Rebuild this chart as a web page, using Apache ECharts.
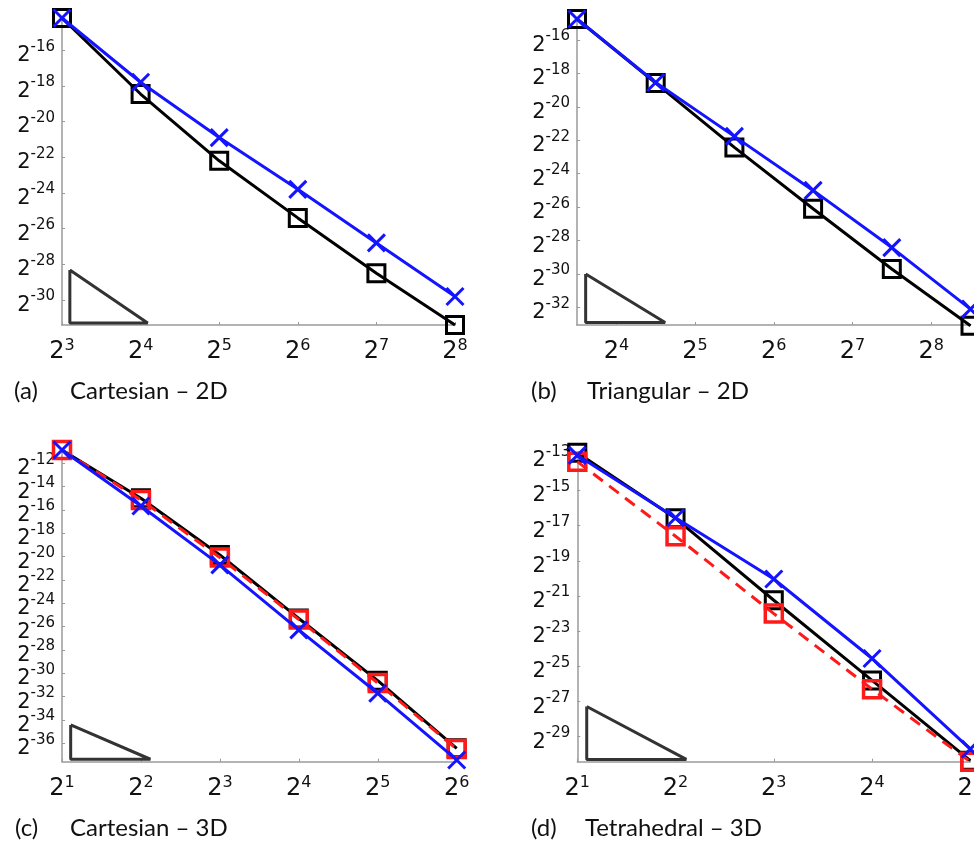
<!DOCTYPE html>
<html>
<head>
<meta charset="utf-8">
<title>Convergence plots</title>
<script src="https://cdn.jsdelivr.net/npm/echarts@6/dist/echarts.min.js"></script>
<style>
  html, body { margin: 0; padding: 0; background: #fff; }
  #chart { width: 974px; height: 843px; }
</style>
</head>
<body>
<div id="chart"></div>
<script>
// All values are base-2 exponents: x = log2(N), y = log2(error).

// (a) Cartesian – 2D
const xA = [3, 4, 5, 6, 7, 8];
const aBlack = [-14.2, -18.46, -22.2, -25.4, -28.5, -31.4];
const aBlue = [-14.2, -17.8, -20.9, -23.8, -26.8, -29.8];
const aXTicks = [3, 4, 5, 6, 7, 8];
const aYTicks = [-30, -28, -26, -24, -22, -20, -18, -16];
const aSlope = [[3.1, -28.32], [3.1, -31.29], [4.09, -31.29], [3.1, -28.32]];

// (b) Triangular – 2D
const xB = [3.5, 4.5, 5.5, 6.5, 7.5, 8.5];
const bBlack = [-14.75, -18.58, -22.43, -26.1, -29.7, -33.1];
const bBlue = [-14.75, -18.55, -21.77, -25.0, -28.42, -32.1];
const bXTicks = [4, 5, 6, 7, 8];
const bYTicks = [-32, -30, -28, -26, -24, -22, -20, -18, -16];
const bSlope = [[3.61, -30], [3.61, -32.9], [4.62, -32.9], [3.61, -30]];

// (c) Cartesian – 3D
const xC = [1, 2, 3, 4, 5, 6];
const cBlack = [-10.86, -15.0, -19.86, -25.3, -30.63, -36.43];
const cRed = [-10.86, -15.14, -20.08, -25.4, -30.83, -36.5];
const cBlue = [-10.86, -15.66, -20.71, -26.28, -31.71, -37.43];
const cXTicks = [1, 2, 3, 4, 5, 6];
const cYTicks = [-36, -34, -32, -30, -28, -26, -24, -22, -20, -18, -16, -14, -12];
const cSlope = [[1.11, -34.43], [1.11, -37.37], [2.12, -37.37], [1.11, -34.43]];

// (d) Tetrahedral – 3D
const xD = [1, 2, 3, 4, 5];
const dBlack = [-12.85, -16.58, -21.24, -25.8, -30.36];
const dRed = [-13.36, -17.6, -22.0, -26.3, -30.42];
const dBlue = [-13.0, -16.55, -20.03, -24.55, -29.7];
const dXTicks = [1, 2, 3, 4, 5];
const dYTicks = [-29, -27, -25, -23, -21, -19, -17, -15, -13];
const dSlope = [[1.096, -27.28], [1.096, -30.29], [2.11, -30.29], [1.096, -27.28]];

const BLACK = '#000000';
const BLUE = '#1414ff';
const RED = '#ff1a1a';
const AXIS = '#9a9a9a';
const CROSS = 'path://M0,0L10,10M10,0L0,10';

const panels = [
  { grid: { left: 62, top: 18, width: 393, height: 307 }, x: [3, 8], y: [-31.4, -14.2],
    xs: xA, black: aBlack, red: null, blue: aBlue, xt: aXTicks, yt: aYTicks, slope: aSlope },
  { grid: { left: 577, top: 19, width: 393.5, height: 306 }, x: [3.5, 8.5], y: [-33.05, -14.75],
    xs: xB, black: bBlack, red: null, blue: bBlue, xt: bXTicks, yt: bYTicks, slope: bSlope },
  { grid: { left: 62, top: 450, width: 394.7, height: 311.7 }, x: [1, 6], y: [-37.58, -10.86],
    xs: xC, black: cBlack, red: cRed, blue: cBlue, xt: cXTicks, yt: cYTicks, slope: cSlope },
  { grid: { left: 577.3, top: 452.7, width: 393, height: 309 }, x: [1, 5], y: [-30.42, -12.85],
    xs: xD, black: dBlack, red: dRed, blue: dBlue, xt: dXTicks, yt: dYTicks, slope: dSlope }
];

const captions = [
  { tag: '(a)', text: 'Cartesian \u2013 2D', x0: 14, x1: 70, y: 393 },
  { tag: '(b)', text: 'Triangular \u2013 2D', x0: 531, x1: 587, y: 393 },
  { tag: '(c)', text: 'Cartesian \u2013 3D', x0: 15, x1: 70, y: 830 },
  { tag: '(d)', text: 'Tetrahedral \u2013 3D', x0: 531, x1: 585, y: 830 }
];

const pow = v => '{b|2}{s|' + v + '}';

const yLabelStyle = values => ({
  customValues: values, margin: 7, formatter: pow, color: '#111',
  showMinLabel: true, showMaxLabel: true, hideOverlap: false,
  verticalAlign: 'top',
  rich: {
    b: { fontFamily: 'DejaVu Sans', fontSize: 21, lineHeight: 16, verticalAlign: 'bottom', color: '#111' },
    s: { fontFamily: 'DejaVu Sans', fontSize: 15, lineHeight: 2, verticalAlign: 'bottom',
         padding: [0, 0, 12, 0], color: '#111' }
  }
});

const grids = [], xAxes = [], yAxes = [], series = [];
panels.forEach((p, i) => {
  grids.push(Object.assign({ outerBoundsMode: 'none', containLabel: false }, p.grid));
  xAxes.push({
    type: 'value', gridIndex: i, min: p.x[0], max: p.x[1],
    splitLine: { show: false },
    axisLine: { show: true, onZero: false, lineStyle: { color: AXIS, width: 1.5 } },
    axisTick: { show: true, inside: true, length: 3, customValues: p.xt, lineStyle: { color: AXIS } },
    axisLabel: {
      customValues: p.xt, margin: 13, formatter: pow, color: '#111',
      showMinLabel: true, showMaxLabel: true, hideOverlap: false,
      rich: {
        b: { fontFamily: 'DejaVu Sans', fontSize: 24, lineHeight: 26, verticalAlign: 'bottom', color: '#111' },
        s: { fontFamily: 'DejaVu Sans', fontSize: 16, lineHeight: 8, verticalAlign: 'top', color: '#111' }
      }
    }
  });
  // labels alternate between two left axes so that close neighbours are never dropped
  const evenTicks = p.yt.filter((v, k) => k % 2 === 0);
  const oddTicks = p.yt.filter((v, k) => k % 2 === 1);
  const yMain = yAxes.length;
  yAxes.push({
    type: 'value', gridIndex: i, min: p.y[0], max: p.y[1], position: 'left',
    splitLine: { show: false },
    axisLine: { show: true, onZero: false, lineStyle: { color: AXIS, width: 1.5 } },
    axisTick: { show: true, inside: true, length: 3, customValues: p.yt, lineStyle: { color: AXIS } },
    axisLabel: yLabelStyle(evenTicks)
  });
  yAxes.push({
    type: 'value', gridIndex: i, min: p.y[0], max: p.y[1], position: 'left', offset: 0,
    splitLine: { show: false },
    axisLine: { show: false, onZero: false },
    axisTick: { show: false },
    axisLabel: yLabelStyle(oddTicks)
  });

  // slope triangle
  series.push({
    type: 'line', xAxisIndex: i, yAxisIndex: yMain, data: p.slope, symbol: 'none',
    lineStyle: { color: '#333', width: 3 }, clip: false, silent: true, z: 1
  });
  series.push({
    type: 'line', xAxisIndex: i, yAxisIndex: yMain, clip: false, z: 2,
    data: p.xs.map((x, k) => [x, p.black[k]]),
    lineStyle: { color: BLACK, width: 3 },
    symbol: 'rect', symbolSize: 17,
    itemStyle: { color: 'rgba(0,0,0,0)', borderColor: BLACK, borderWidth: 3 }
  });
  if (p.red) {
    series.push({
      type: 'line', xAxisIndex: i, yAxisIndex: yMain, clip: false, z: 3,
      data: p.xs.map((x, k) => [x, p.red[k]]),
      lineStyle: { color: RED, width: 3, type: [12, 8] },
      symbol: 'rect', symbolSize: 17,
      itemStyle: { color: 'rgba(0,0,0,0)', borderColor: RED, borderWidth: 3.5 }
    });
  }
  series.push({
    type: 'line', xAxisIndex: i, yAxisIndex: yMain, clip: false, z: 4,
    data: p.xs.map((x, k) => [x, p.blue[k]]),
    lineStyle: { color: BLUE, width: 3 },
    symbol: CROSS, symbolSize: 17, symbolKeepAspect: true,
    itemStyle: { color: 'rgba(0,0,0,0)', borderColor: BLUE, borderWidth: 3 }
  });
});

const graphics = [];
captions.forEach(c => {
  graphics.push({ type: 'text', left: c.x0, top: c.y - 14,
    style: { text: c.tag, font: '24px Lato', fill: '#111' } });
  graphics.push({ type: 'text', left: c.x1, top: c.y - 14,
    style: { text: c.text, font: '24px Lato', fill: '#111' } });
});

const chart = echarts.init(document.getElementById('chart'), null, { renderer: 'canvas' });
chart.setOption({
  backgroundColor: '#ffffff',
  animation: false,
  grid: grids,
  xAxis: xAxes,
  yAxis: yAxes,
  series: series,
  graphic: graphics
});
</script>
</body>
</html>
